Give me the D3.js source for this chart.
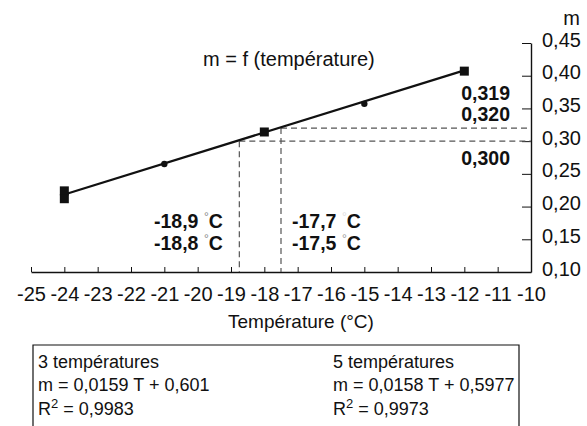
<!DOCTYPE html>
<html>
<head>
<meta charset="utf-8">
<script src="https://cdn.jsdelivr.net/npm/d3@7"></script>
<style>
  body { margin: 0; background: #fff; }
  svg { display: block; font-family: "Liberation Sans", Arial, Helvetica, sans-serif; }
</style>
</head>
<body>
<svg id="chart" width="587" height="426"></svg>
<script>
// values
const tempTicks = [-25, -24, -23, -22, -21, -20, -19, -18, -17, -16, -15, -14, -13, -12, -11, -10];
const massTicks = [0.10, 0.15, 0.20, 0.25, 0.30, 0.35, 0.40, 0.45];

// square markers (3 temperatures), -24 has two overlapping squares
const squareT = [-24, -24, -18, -12];
const squareM = [0.224, 0.212, 0.314, 0.407];
// small dots (the two extra temperatures)
const dotT = [-21, -15];
const dotM = [0.265, 0.357];

// fitted line m = a T + b, drawn between the end temperatures
const fitT = [-24, -12];
const fitA = 0.0158, fitB = 0.5977;

// dashed guides
const guideM = [0.300, 0.320];
const guideT = [-18.75, -17.5];

const fr = d3.formatLocale({decimal: ",", thousands: " ", grouping: [3], currency: ["", " €"]});
const fmt2 = fr.format(".2f");

const svg = d3.select("#chart");
const x = d3.scaleLinear().domain([-25, -10]).range([31, 531]);
const y = d3.scaleLinear().domain([0.10, 0.45]).range([272, 43]);

// axes
const xAxis = svg.append("g")
  .attr("transform", "translate(0," + y(0.10) + ")")
  .call(d3.axisBottom(x).tickValues(tempTicks).tickSize(-5).tickSizeOuter(0).tickPadding(15).tickFormat(d => d));
const yAxis = svg.append("g")
  .attr("transform", "translate(" + x(-10) + ",0)")
  .call(d3.axisRight(y).tickValues(massTicks).tickSize(-9).tickSizeOuter(0).tickPadding(11).tickFormat(fmt2));

[xAxis, yAxis].forEach(a => {
  a.selectAll("text").attr("font-family", null).attr("font-size", 20).attr("fill", "#111");
  a.select(".domain").attr("stroke", "#111").attr("stroke-width", 1.4);
  a.selectAll(".tick line").attr("stroke", "#111");
});
yAxis.selectAll("text").attr("dy", null).attr("y", 3);

svg.append("text").attr("x", 580).attr("y", 25).attr("text-anchor", "end")
  .attr("font-size", 20).attr("fill", "#111").text("m");
svg.append("text").attr("x", 228).attr("y", 328)
  .attr("font-size", 19).attr("fill", "#111").text("Température (°C)");
svg.append("text").attr("x", 203).attr("y", 66)
  .attr("font-size", 20).attr("fill", "#111").text("m = f (température)");

// dashed guides
const dash = svg.append("g").attr("fill", "none").attr("stroke", "#555")
  .attr("stroke-width", 1.2).attr("stroke-dasharray", "6,4");
guideM.forEach((m, i) => {
  dash.append("line").attr("x1", x(guideT[i])).attr("x2", x(-10))
    .attr("y1", y(m)).attr("y2", y(m));
  dash.append("line").attr("x1", x(guideT[i])).attr("x2", x(guideT[i]))
    .attr("y1", y(m)).attr("y2", y(0.10));
});

// fitted line
svg.append("path")
  .datum(fitT)
  .attr("fill", "none").attr("stroke", "#111").attr("stroke-width", 2.2)
  .attr("d", d3.line().x(t => x(t)).y(t => y(fitA * t + fitB)));

// markers
svg.append("g").selectAll("rect")
  .data(squareT.map((t, i) => ({t, m: squareM[i]})))
  .join("rect")
  .attr("x", d => x(d.t) - 4.5).attr("y", d => y(d.m) - 4.5)
  .attr("width", 9).attr("height", 9).attr("fill", "#111");
svg.append("g").selectAll("circle")
  .data(dotT.map((t, i) => ({t, m: dotM[i]})))
  .join("circle")
  .attr("cx", d => x(d.t)).attr("cy", d => y(d.m)).attr("r", 3.2).attr("fill", "#111");

// bold annotations
const bold = (tx, ty, anchor, str) => svg.append("text").attr("x", tx).attr("y", ty)
  .attr("text-anchor", anchor).attr("font-size", 19.5).attr("font-weight", "bold")
  .attr("fill", "#111").text(str);
bold(510, 100, "end", "0,319");
bold(510, 121, "end", "0,320");
bold(510, 165, "end", "0,300");

const tempLabel = (tx, ty, num, degColor) => {
  const t = svg.append("text").attr("x", tx).attr("y", ty)
    .attr("font-size", 19.5).attr("font-weight", "bold").attr("fill", "#111");
  t.append("tspan").text(num + " ");
  t.append("tspan").attr("font-size", 12).attr("font-weight", "normal")
    .attr("fill", degColor).attr("dy", -7).text("°");
  t.append("tspan").attr("dy", 7).text("C");
};
tempLabel(154, 228, "-18,9", "#888");
tempLabel(154, 250, "-18,8", "#888");
tempLabel(292, 228, "-17,7", "#ddd");
tempLabel(292, 250, "-17,5", "#999");

// legend box (open at the bottom)
svg.append("path")
  .attr("d", "M33,426V345H519V426")
  .attr("fill", "none").attr("stroke", "#111").attr("stroke-width", 1.2);

const legend = [
  {x: 38, lines: ["3 températures", "m = 0,0159 T + 0,601", "0,9983"]},
  {x: 333, lines: ["5 températures", "m = 0,0158 T + 0,5977", "0,9973"]}
];
legend.forEach(col => {
  svg.append("text").attr("x", col.x).attr("y", 368).attr("font-size", 18)
    .attr("fill", "#111").text(col.lines[0]);
  svg.append("text").attr("x", col.x).attr("y", 391).attr("font-size", 18)
    .attr("fill", "#111").text(col.lines[1]);
  const r = svg.append("text").attr("x", col.x).attr("y", 415).attr("font-size", 18).attr("fill", "#111");
  r.append("tspan").text("R");
  r.append("tspan").attr("font-size", 13).attr("dy", -7).text("2");
  r.append("tspan").attr("dy", 7).text(" = " + col.lines[2]);
});
</script>
</body>
</html>
